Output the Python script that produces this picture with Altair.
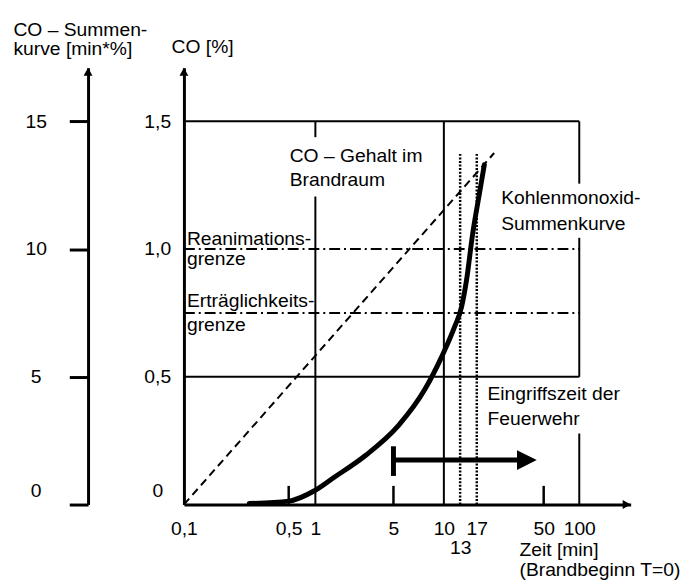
import altair as alt
import pandas as pd

# ---------------- data (time in minutes, CO in %) ----------------
curve_t = [0.2725, 0.5, 0.975, 1.443, 2.827, 5.35, 7.72, 9.73, 11.9, 13.3, 14.4, 15.9, 17.7, 19.2]
curve_co = [0.004, 0.0135, 0.054, 0.104, 0.193, 0.309, 0.452, 0.580, 0.696, 0.773, 0.877, 1.059, 1.214, 1.330]

gehalt_t = [0.1, 22.5]
gehalt_co = [0.0, 1.376]

grenze_co = [1.0, 0.75]          # Reanimationsgrenze, Erträglichkeitsgrenze
frame_co = [1.5, 0.5]
frame_t = [0.1, 100]

vert_t = [1, 1, 10, 100, 100, 100]
vert_from = [0, 1.438, 0, 0, 0.5, 1.256]
vert_to = [1.206, 1.5, 1.5, 0.278, 1.044, 1.5]

marker_t = [13, 17]
marker_top = 1.372

minor_tick_t = [0.5, 5, 50]
minor_tick_len = 0.073

eingriff_start = 5
eingriff_line_end = 32.5
eingriff_tip = 44.7
eingriff_co = 0.174
eingriff_bar = [0.112, 0.228]

x_ticks = [0.1, 0.5, 1, 5, 10, 13, 17, 50, 100]
co_ticks = [0, 0.5, 1.0, 1.5]
sum_ticks = [0, 5, 10, 15]
co_max = 1.71
sum_max = 17.1
t_max = 245

ann_text = ["CO \u2013 Gehalt im", "Brandraum", "Reanimations-", "grenze",
            "Erträglichkeits-", "grenze", "Kohlenmonoxid-", "Summenkurve",
            "Eingriffszeit der", "Feuerwehr"]
ann_t = [0.513, 0.513, 0.1047, 0.1047, 0.1047, 0.1047, 25.2, 25.2, 20.2, 20.2]
ann_co = [1.365, 1.272, 1.040, 0.959, 0.796, 0.704, 1.198, 1.098, 0.433, 0.336]

# ---------------- styling ----------------
FONT = "Liberation Sans"
FS = 19.5
INK = "black"

xscale = alt.Scale(type="log", domain=[0.1, 0.5, 1, 5, 10, 50, 100, t_max],
                   range=[0, 106, 133, 212, 263, 364, 400, 452], nice=False)
yscale = alt.Scale(domain=[0, co_max], nice=False)

x_axis = alt.Axis(
    orient="bottom", values=x_ticks,
    labelExpr="datum.value == 13 ? ['', '13'] : replace(toString(datum.value), '.', ',')",
    labelPadding=15, labelLineHeight=20, labelBaseline="top",
    ticks=False, domainWidth=3, domainColor=INK, grid=False,
    labelOverlap=False, labelFlush=False, labelFont=FONT, labelFontSize=FS, labelColor=INK,
    title=["Zeit [min]", "(Brandbeginn T=0)"], titleAngle=0, titleAlign="left",
    titleX=339, titleY=52, titleBaseline="alphabetic", titleFont=FONT, titleFontSize=FS,
    titleFontWeight="normal", titleColor=INK, titleLineHeight=19.5)

co_axis = alt.Axis(
    orient="left", values=co_ticks,
    labelExpr="datum.value == 0 ? '0' : replace(format(datum.value, '.1f'), '.', ',')",
    ticks=False, labelPadding=27, labelAlign="center", labelBaseline="middle",
    labelOffset={"condition": {"test": "datum.value == 0", "value": -14}, "value": 0},
    domainWidth=3, domainColor=INK, grid=False, labelFont=FONT, labelFontSize=FS, labelColor=INK,
    title="CO [%]", titleAngle=0, titleAlign="left", titleBaseline="alphabetic",
    titleX=-13, titleY=-15, titleFont=FONT, titleFontSize=FS, titleFontWeight="normal", titleColor=INK)

sum_axis = alt.Axis(
    orient="left", offset=97, values=sum_ticks, labelExpr="toString(datum.value)",
    tickSize=19, tickWidth=3, tickColor=INK, labelPadding=34, labelAlign="center", labelBaseline="middle",
    labelOffset={"condition": {"test": "datum.value == 0", "value": -14}, "value": 0},
    domainWidth=3, domainColor=INK, grid=False, labelFont=FONT, labelFontSize=FS, labelColor=INK,
    title=["CO \u2013 Summen-", "kurve [min*%]"], titleAngle=0, titleAlign="left", titleBaseline="alphabetic",
    titleX=-76, titleY=-33, titleFont=FONT, titleFontSize=FS, titleFontWeight="normal", titleColor=INK,
    titleLineHeight=19.5)


def X(field="t"):
    return alt.X(f"{field}:Q", scale=xscale, axis=x_axis)


def Y(field="co"):
    return alt.Y(f"{field}:Q", scale=yscale, axis=co_axis)


# ---------------- layers ----------------
frame = alt.Chart(pd.DataFrame({"co": frame_co, "t": [frame_t[0]] * len(frame_co),
                                "t2": [frame_t[1]] * len(frame_co)})).mark_rule(
    color=INK, strokeWidth=2).encode(x=X(), x2="t2:Q", y=Y())

grenzen = alt.Chart(pd.DataFrame({"co": grenze_co, "t": [frame_t[0]] * len(grenze_co),
                                  "t2": [frame_t[1]] * len(grenze_co)})).mark_rule(
    color=INK, strokeWidth=2, strokeDash=[11, 4, 2, 4]).encode(x=X(), x2="t2:Q", y=Y())

verticals = alt.Chart(pd.DataFrame({"t": vert_t, "co": vert_from, "co2": vert_to})).mark_rule(
    color=INK, strokeWidth=2).encode(x=X(), y=Y(), y2="co2:Q")

minor = alt.Chart(pd.DataFrame({"t": minor_tick_t, "co": [0] * len(minor_tick_t),
                                "co2": [minor_tick_len] * len(minor_tick_t)})).mark_rule(
    color=INK, strokeWidth=2.5).encode(x=X(), y=Y(), y2="co2:Q")

markers = alt.Chart(pd.DataFrame({"t": marker_t, "co": [0] * len(marker_t),
                                  "co2": [marker_top] * len(marker_t)})).mark_rule(
    color=INK, strokeWidth=2.5, strokeDash=[2, 1.6]).encode(x=X(), y=Y(), y2="co2:Q")

gehalt = alt.Chart(pd.DataFrame({"t": gehalt_t, "co": gehalt_co})).mark_line(
    color=INK, strokeWidth=2, strokeDash=[8, 5]).encode(x=X(), y=Y())

curve = alt.Chart(pd.DataFrame({"t": curve_t, "co": curve_co})).mark_line(
    color=INK, strokeWidth=5, interpolate="monotone", strokeCap="round").encode(x=X(), y=Y())

eingriff_line = alt.Chart(pd.DataFrame({"t": [eingriff_start], "t2": [eingriff_line_end],
                                        "co": [eingriff_co]})).mark_rule(
    color=INK, strokeWidth=5).encode(x=X(), x2="t2:Q", y=Y())

eingriff_bar_l = alt.Chart(pd.DataFrame({"t": [eingriff_start], "co": [eingriff_bar[0]],
                                         "co2": [eingriff_bar[1]]})).mark_rule(
    color=INK, strokeWidth=5).encode(x=X(), y=Y(), y2="co2:Q")

eingriff_head = alt.Chart(pd.DataFrame({"t": [eingriff_tip], "co": [eingriff_co]})).mark_point(
    shape="M0,0L-2,-1L-2,1Z", size=400, filled=True, color=INK, opacity=1, strokeWidth=0
).encode(x=X(), y=Y())

arrow_up = alt.Chart(pd.DataFrame({"t": [frame_t[0]], "co": [co_max]})).mark_point(
    shape="M0,0L-1,1.8L1,1.8Z", size=81, filled=True, color=INK, opacity=1, strokeWidth=0
).encode(x=X(), y=Y())

arrow_right = alt.Chart(pd.DataFrame({"t": [t_max], "co": [0]})).mark_point(
    shape="M0,0L-1.8,-1L-1.8,1Z", size=81, filled=True, color=INK, opacity=1, strokeWidth=0
).encode(x=X(), y=Y())

labels = alt.Chart(pd.DataFrame({"text": ann_text, "t": ann_t, "co": ann_co})).mark_text(
    align="left", baseline="middle", font=FONT, fontSize=FS, color=INK
).encode(x=X(), y=Y(), text="text:N")

inner = alt.layer(frame, grenzen, verticals, minor, markers, gehalt, curve,
                  eingriff_line, eingriff_bar_l, eingriff_head, arrow_up, arrow_right, labels)

summen = alt.Chart(pd.DataFrame({"s": [sum_max]})).mark_point(
    shape="M0,0L-1,1.8L1,1.8Z", size=81, filled=True, color=INK, opacity=1, strokeWidth=0
).encode(x=alt.value(-97),
         y=alt.Y("s:Q", scale=alt.Scale(domain=[0, sum_max], nice=False), axis=sum_axis))

chart = alt.layer(inner, summen).resolve_scale(y="independent").properties(
    width=452, height=442,
    padding={"left": 178, "top": 57, "right": 57, "bottom": 76},
    autosize=alt.AutoSizeParams(type="none"),
    background="white",
).configure_view(stroke=None)

chart.save("out.html", embed_options={"renderer": "svg", "actions": False})
